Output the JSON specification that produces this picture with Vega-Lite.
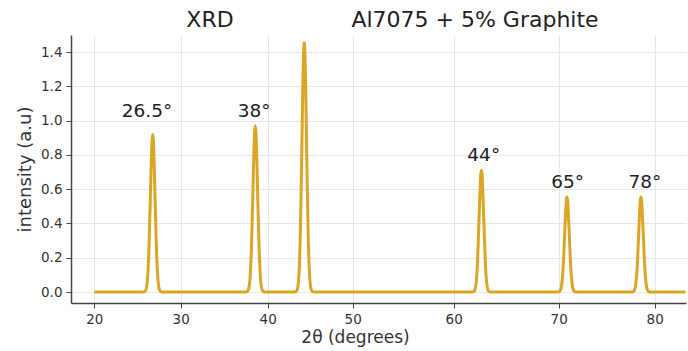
{
  "$schema": "https://vega.github.io/schema/vega-lite/v6.json",
  "width": 615,
  "height": 268,
  "autosize": {"type": "none"},
  "padding": {"left": 71, "top": 35, "right": 2, "bottom": 48},
  "background": "white",
  "config": {
    "font": "DejaVu Sans",
    "view": {"stroke": null},
    "axis": {
      "domainColor": "#444",
      "domainWidth": 1.5,
      "tickColor": "#444",
      "tickSize": 5,
      "gridColor": "#e6e6e6",
      "gridWidth": 1,
      "labelColor": "#333",
      "labelFontSize": 13.5,
      "labelOverlap": false,
      "titleFontSize": 17,
      "titleFontWeight": "normal",
      "titleColor": "#333"
    }
  },
  "datasets": {
    "xrd": [
      {"x": 20, "y": 0},
      {"x": 25.56, "y": 0}, {"x": 25.86, "y": 0.004}, {"x": 26.01, "y": 0.019}, {"x": 26.16, "y": 0.078}, {"x": 26.31, "y": 0.229}, {"x": 26.46, "y": 0.496}, {"x": 26.61, "y": 0.788}, {"x": 26.68, "y": 0.88}, {"x": 26.76, "y": 0.92}, {"x": 26.84, "y": 0.88}, {"x": 26.91, "y": 0.788}, {"x": 27.06, "y": 0.496}, {"x": 27.21, "y": 0.229}, {"x": 27.36, "y": 0.078}, {"x": 27.51, "y": 0.019}, {"x": 27.66, "y": 0.004}, {"x": 27.96, "y": 0},
      {"x": 37.37, "y": 0}, {"x": 37.67, "y": 0.004}, {"x": 37.82, "y": 0.02}, {"x": 37.97, "y": 0.082}, {"x": 38.12, "y": 0.242}, {"x": 38.27, "y": 0.523}, {"x": 38.42, "y": 0.831}, {"x": 38.49, "y": 0.928}, {"x": 38.57, "y": 0.97}, {"x": 38.65, "y": 0.928}, {"x": 38.72, "y": 0.831}, {"x": 38.87, "y": 0.523}, {"x": 39.02, "y": 0.242}, {"x": 39.17, "y": 0.082}, {"x": 39.32, "y": 0.02}, {"x": 39.47, "y": 0.004}, {"x": 39.77, "y": 0},
      {"x": 43.1, "y": 0}, {"x": 43.4, "y": 0.006}, {"x": 43.55, "y": 0.031}, {"x": 43.7, "y": 0.124}, {"x": 43.85, "y": 0.362}, {"x": 44.0, "y": 0.784}, {"x": 44.15, "y": 1.247}, {"x": 44.22, "y": 1.392}, {"x": 44.3, "y": 1.455}, {"x": 44.38, "y": 1.392}, {"x": 44.45, "y": 1.247}, {"x": 44.6, "y": 0.784}, {"x": 44.75, "y": 0.362}, {"x": 44.9, "y": 0.124}, {"x": 45.05, "y": 0.031}, {"x": 45.2, "y": 0.006}, {"x": 45.5, "y": 0},
      {"x": 61.66, "y": 0}, {"x": 61.9, "y": 0.003}, {"x": 62.03, "y": 0.015}, {"x": 62.15, "y": 0.06}, {"x": 62.27, "y": 0.177}, {"x": 62.39, "y": 0.383}, {"x": 62.52, "y": 0.608}, {"x": 62.57, "y": 0.679}, {"x": 62.64, "y": 0.71}, {"x": 62.71, "y": 0.679}, {"x": 62.76, "y": 0.608}, {"x": 62.89, "y": 0.383}, {"x": 63.01, "y": 0.177}, {"x": 63.13, "y": 0.06}, {"x": 63.25, "y": 0.015}, {"x": 63.38, "y": 0.003}, {"x": 63.62, "y": 0},
      {"x": 69.78, "y": 0}, {"x": 70.05, "y": 0.002}, {"x": 70.19, "y": 0.012}, {"x": 70.32, "y": 0.047}, {"x": 70.46, "y": 0.138}, {"x": 70.59, "y": 0.299}, {"x": 70.73, "y": 0.476}, {"x": 70.79, "y": 0.531}, {"x": 70.86, "y": 0.555}, {"x": 70.93, "y": 0.531}, {"x": 70.99, "y": 0.476}, {"x": 71.13, "y": 0.299}, {"x": 71.26, "y": 0.138}, {"x": 71.4, "y": 0.047}, {"x": 71.53, "y": 0.012}, {"x": 71.67, "y": 0.002}, {"x": 71.94, "y": 0},
      {"x": 77.49, "y": 0}, {"x": 77.76, "y": 0.002}, {"x": 77.9, "y": 0.012}, {"x": 78.03, "y": 0.047}, {"x": 78.17, "y": 0.138}, {"x": 78.3, "y": 0.299}, {"x": 78.44, "y": 0.476}, {"x": 78.5, "y": 0.531}, {"x": 78.57, "y": 0.555}, {"x": 78.64, "y": 0.531}, {"x": 78.7, "y": 0.476}, {"x": 78.84, "y": 0.299}, {"x": 78.97, "y": 0.138}, {"x": 79.11, "y": 0.047}, {"x": 79.24, "y": 0.012}, {"x": 79.38, "y": 0.002}, {"x": 79.65, "y": 0},
      {"x": 83.2, "y": 0}
    ],
    "peaks": [
      {"x": 26.1, "y": 1.056, "label": "26.5°"},
      {"x": 38.43, "y": 1.056, "label": "38°"},
      {"x": 62.86, "y": 0.797, "label": "44°"},
      {"x": 70.92, "y": 0.642, "label": "65°"},
      {"x": 78.97, "y": 0.642, "label": "78°"}
    ],
    "titles": [
      {"x": 33.37, "y": 1.587, "label": "XRD"},
      {"x": 62.03, "y": 1.587, "label": "Al7075 + 5% Graphite"}
    ]
  },
  "encoding": {
    "x": {
      "field": "x", "type": "quantitative",
      "scale": {"type": "linear", "domain": [17.3, 20, 30, 40, 50, 60, 70, 80, 83.26], "range": [0, 23.3, 109.7, 196.7, 281.7, 382.7, 487.7, 583.7, 615], "nice": false, "zero": false},
      "axis": {"values": [20, 30, 40, 50, 60, 70, 80], "format": "d", "title": "2θ (degrees)", "titleX": 284, "titlePadding": 4, "labelPadding": 4}
    },
    "y": {
      "field": "y", "type": "quantitative",
      "scale": {"domain": [-0.064, 1.5], "nice": false, "zero": false},
      "axis": {"values": [0, 0.2, 0.4, 0.6, 0.8, 1, 1.2, 1.4], "format": ".1f", "title": "intensity (a.u)", "titleFontSize": 18, "titlePadding": 6, "labelPadding": 4}
    }
  },
  "layer": [
    {
      "data": {"name": "xrd"},
      "mark": {"type": "line", "color": "#DCA524", "strokeWidth": 3, "interpolate": "monotone", "clip": true}
    },
    {
      "data": {"name": "peaks"},
      "mark": {"type": "text", "fontSize": 18.5, "color": "#222", "baseline": "middle", "align": "center"},
      "encoding": {"text": {"field": "label"}}
    },
    {
      "data": {"name": "titles"},
      "mark": {"type": "text", "fontSize": 22, "color": "#222", "baseline": "middle", "align": "center"},
      "encoding": {"text": {"field": "label"}}
    }
  ]
}
